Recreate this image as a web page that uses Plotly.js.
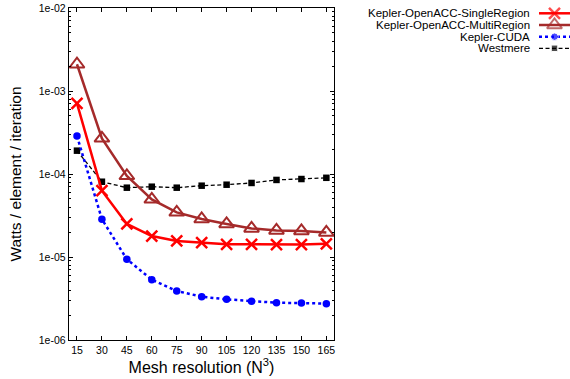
<!DOCTYPE html>
<html>
<head>
<meta charset="utf-8">
<script src="https://cdn.plot.ly/plotly-3.0.1.min.js"></script>
<style>html,body{margin:0;padding:0;background:#fff;}#chart{width:570px;height:379px;}</style>
</head>
<body>
<div id="chart"></div>
<script>
// ---- data ----
const meshSizes = [15, 30, 45, 60, 75, 90, 105, 120, 135, 150, 165];
const seriesNames = ["Kepler-OpenACC-SingleRegion", "Kepler-OpenACC-MultiRegion", "Kepler-CUDA", "Westmere"];
const singleRegion = [7.1e-4, 6.3e-5, 2.5e-5, 1.79e-5, 1.56e-5, 1.49e-5, 1.42e-5, 1.42e-5, 1.41e-5, 1.41e-5, 1.44e-5];
const multiRegion  = [2.1e-3, 2.69e-4, 9.5e-5, 4.95e-5, 3.45e-5, 2.87e-5, 2.5e-5, 2.21e-5, 2.09e-5, 2.06e-5, 1.98e-5];
const keplerCuda   = [2.87e-4, 2.85e-5, 9.4e-6, 5.33e-6, 3.9e-6, 3.32e-6, 3.09e-6, 2.92e-6, 2.81e-6, 2.79e-6, 2.74e-6];
const westmere     = [1.91e-4, 8.07e-5, 6.84e-5, 7.03e-5, 6.84e-5, 7.23e-5, 7.43e-5, 7.8e-5, 8.48e-5, 8.7e-5, 9.0e-5];
const yTickVals = [1e-6, 1e-5, 1e-4, 1e-3, 1e-2];
const yTickText = ["1e-06", "1e-05", "1e-04", "1e-03", "1e-02"];

// ---- styles ----
const styles = [
  {line: {color: "#ff0000", width: 2.5, dash: "solid"}, marker: {symbol: "x-thin-open", size: 11, color: "#ff0000", line: {color: "#ff0000", width: 2.5}}},
  {line: {color: "#a52a2a", width: 2.5, dash: "solid"}, marker: {symbol: "triangle-up-open", size: 13, color: "#a52a2a", line: {color: "#a52a2a", width: 2}}},
  {line: {color: "#0000ff", width: 2.5, dash: "dot"}, marker: {symbol: "circle", size: 7.5, color: "#0000ff"}},
  {line: {color: "#000000", width: 1.3, dash: "4px,2.5px"}, marker: {symbol: "square", size: 6.5, color: "#000000"}}
];
const allSeries = [singleRegion, multiRegion, keplerCuda, westmere];
const drawOrder = [3, 2, 1, 0];

const traces = [];
drawOrder.forEach(i => {
  traces.push({
    x: meshSizes, y: allSeries[i], name: seriesNames[i],
    type: "scatter", mode: "lines+markers",
    line: styles[i].line, marker: styles[i].marker,
    cliponaxis: false, showlegend: false, xaxis: "x", yaxis: "y"
  });
});

// custom legend (text right, sample on the right)
const legendRows = [5.3, 17, 28.7, 40.3];
const annotations = [];
seriesNames.forEach((name, i) => {
  const m = Object.assign({}, styles[i].marker);
  m.size = [0, styles[i].marker.size, 0];
  traces.push({
    x: [0, 0.5, 1], y: [legendRows[i], legendRows[i], legendRows[i]],
    type: "scatter", mode: "lines+markers", line: styles[i].line, marker: m,
    cliponaxis: false, showlegend: false, hoverinfo: "skip", xaxis: "x2", yaxis: "y2"
  });
  annotations.push({
    text: name, xref: "paper", yref: "y2", x: (532 - 69) / 501, y: legendRows[i],
    xanchor: "right", yanchor: "middle", showarrow: false,
    font: {family: "Liberation Sans, Arial, sans-serif", size: 11.5, color: "#000"}
  });
});

// minor ticks on log axis
const minorVals = [];
for (let e = -6; e < -2; e++) for (let k = 2; k <= 9; k++) minorVals.push(k * Math.pow(10, e));

const font = {family: "Liberation Sans, Arial, sans-serif", color: "#000"};
const layout = {
  width: 570, height: 379,
  margin: {l: 69, r: 0, t: 8, b: 39, pad: 0},
  paper_bgcolor: "#fff", plot_bgcolor: "rgba(0,0,0,0)",
  font: font,
  showlegend: false,
  xaxis: {
    domain: [0, 265 / 501], range: [10.2, 169.6],
    tickmode: "array", tickvals: meshSizes, ticktext: meshSizes.map(String),
    ticks: "inside", ticklen: 4, tickwidth: 1, tickcolor: "#000",
    showline: true, linecolor: "#000", linewidth: 1.3, mirror: "allticks",
    showgrid: false, zeroline: false,
    tickfont: {family: font.family, size: 10.5, color: "#000"},
    title: {text: "Mesh resolution (N<sup>3</sup>)", font: {family: font.family, size: 16, color: "#000"}, standoff: 6}
  },
  yaxis: {
    type: "log", range: [-6, -2],
    tickmode: "array", tickvals: yTickVals, ticktext: yTickText,
    ticks: "inside", ticklen: 4, tickwidth: 1, tickcolor: "#000",
    minor: {tickmode: "array", tickvals: minorVals, ticks: "inside", ticklen: 2, tickcolor: "#000", showgrid: false},
    showline: true, linecolor: "#000", linewidth: 1.3, mirror: "allticks",
    showgrid: false, zeroline: false,
    tickfont: {family: font.family, size: 10.5, color: "#000"},
    title: {text: "Watts / element / iteration", font: {family: font.family, size: 15.5, color: "#000"}, standoff: 13}
  },
  xaxis2: {domain: [(539 - 69) / 501, 1], range: [0, 1], visible: false, anchor: "y2"},
  yaxis2: {domain: [1 - 60 / 332, 1], range: [60, 0], visible: false, anchor: "x2"},
  annotations: annotations
};

Plotly.newPlot("chart", traces, layout, {staticPlot: true, displayModeBar: false});
</script>
</body>
</html>
